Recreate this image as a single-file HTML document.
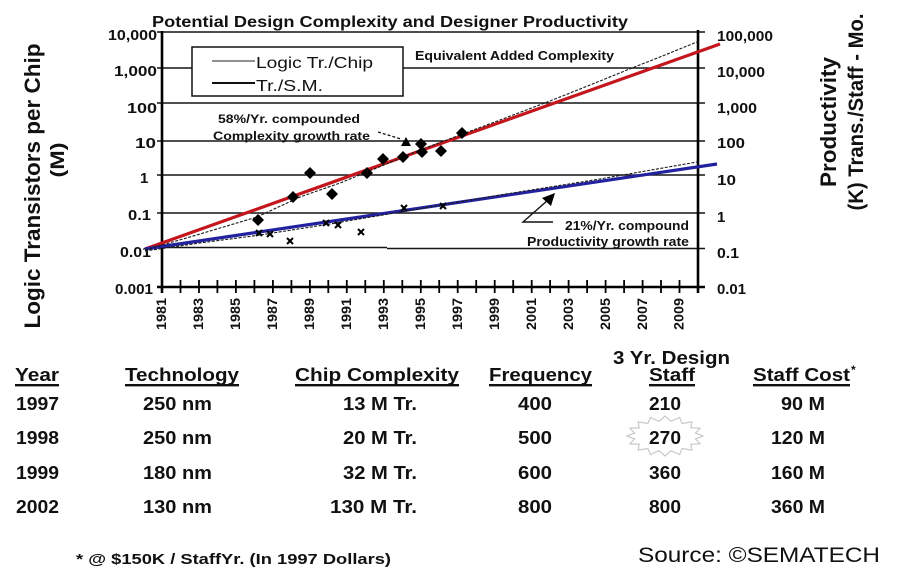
<!DOCTYPE html>
<html><head><meta charset="utf-8">
<style>
html,body{margin:0;padding:0;background:#fff;}
svg{display:block}
text{font-family:"Liberation Sans",Arial,sans-serif;fill:#111;}
.b{font-weight:bold;}
</style></head><body>
<svg width="900" height="578" viewBox="0 0 900 578" xmlns="http://www.w3.org/2000/svg">
<rect width="900" height="578" fill="#fff"/>

<!-- Title -->
<text class="b" x="152" y="27" font-size="16" textLength="476" lengthAdjust="spacingAndGlyphs">Potential Design Complexity and Designer Productivity</text>

<!-- Gridlines -->
<g stroke="#151515" stroke-width="1.6">
  <line x1="157" y1="32" x2="705" y2="32"/>
  <line x1="157" y1="68" x2="192" y2="68"/>
  <line x1="403" y1="68" x2="705" y2="68"/>
  <line x1="157" y1="103" x2="705" y2="103"/>
  <line x1="157" y1="141" x2="705" y2="141"/>
  <line x1="157" y1="175" x2="705" y2="175"/>
  <line x1="157" y1="213" x2="705" y2="213"/>
  <line x1="157" y1="247.5" x2="387" y2="247.5"/>
  <line x1="387" y1="248.5" x2="705" y2="248.5"/>
</g>

<!-- Axes -->
<g stroke="#000" stroke-width="2.6">
  <line x1="162" y1="31" x2="162" y2="293"/>
  <line x1="698" y1="30" x2="698" y2="293"/>
  <line x1="157" y1="287" x2="705" y2="287"/>
</g>

<!-- X ticks -->
<g stroke="#000" stroke-width="1.8">
  <line x1="180.5" y1="280" x2="180.5" y2="293"/>
  <line x1="199" y1="280" x2="199" y2="293"/>
  <line x1="217.4" y1="280" x2="217.4" y2="293"/>
  <line x1="235.9" y1="280" x2="235.9" y2="293"/>
  <line x1="254.4" y1="280" x2="254.4" y2="293"/>
  <line x1="272.9" y1="280" x2="272.9" y2="293"/>
  <line x1="291.4" y1="280" x2="291.4" y2="293"/>
  <line x1="309.9" y1="280" x2="309.9" y2="293"/>
  <line x1="328.3" y1="280" x2="328.3" y2="293"/>
  <line x1="346.8" y1="280" x2="346.8" y2="293"/>
  <line x1="365.3" y1="280" x2="365.3" y2="293"/>
  <line x1="383.8" y1="280" x2="383.8" y2="293"/>
  <line x1="402.3" y1="280" x2="402.3" y2="293"/>
  <line x1="420.8" y1="280" x2="420.8" y2="293"/>
  <line x1="439.2" y1="280" x2="439.2" y2="293"/>
  <line x1="457.7" y1="280" x2="457.7" y2="293"/>
  <line x1="476.2" y1="280" x2="476.2" y2="293"/>
  <line x1="494.7" y1="280" x2="494.7" y2="293"/>
  <line x1="513.2" y1="280" x2="513.2" y2="293"/>
  <line x1="531.7" y1="280" x2="531.7" y2="293"/>
  <line x1="550.1" y1="280" x2="550.1" y2="293"/>
  <line x1="568.6" y1="280" x2="568.6" y2="293"/>
  <line x1="587.1" y1="280" x2="587.1" y2="293"/>
  <line x1="605.6" y1="280" x2="605.6" y2="293"/>
  <line x1="624.1" y1="280" x2="624.1" y2="293"/>
  <line x1="642.6" y1="280" x2="642.6" y2="293"/>
  <line x1="661" y1="280" x2="661" y2="293"/>
  <line x1="679.5" y1="280" x2="679.5" y2="293"/>
</g>

<!-- X labels -->
<g class="b" font-size="14" font-weight="bold" text-anchor="end">
  <text transform="translate(166,298) rotate(-90)" textLength="32" lengthAdjust="spacingAndGlyphs">1981</text>
  <text transform="translate(203,298) rotate(-90)" textLength="32" lengthAdjust="spacingAndGlyphs">1983</text>
  <text transform="translate(240,298) rotate(-90)" textLength="32" lengthAdjust="spacingAndGlyphs">1985</text>
  <text transform="translate(277,298) rotate(-90)" textLength="32" lengthAdjust="spacingAndGlyphs">1987</text>
  <text transform="translate(314,298) rotate(-90)" textLength="32" lengthAdjust="spacingAndGlyphs">1989</text>
  <text transform="translate(351,298) rotate(-90)" textLength="32" lengthAdjust="spacingAndGlyphs">1991</text>
  <text transform="translate(388,298) rotate(-90)" textLength="32" lengthAdjust="spacingAndGlyphs">1993</text>
  <text transform="translate(425,298) rotate(-90)" textLength="32" lengthAdjust="spacingAndGlyphs">1995</text>
  <text transform="translate(462,298) rotate(-90)" textLength="32" lengthAdjust="spacingAndGlyphs">1997</text>
  <text transform="translate(499,298) rotate(-90)" textLength="32" lengthAdjust="spacingAndGlyphs">1999</text>
  <text transform="translate(536,298) rotate(-90)" textLength="32" lengthAdjust="spacingAndGlyphs">2001</text>
  <text transform="translate(573,298) rotate(-90)" textLength="32" lengthAdjust="spacingAndGlyphs">2003</text>
  <text transform="translate(610,298) rotate(-90)" textLength="32" lengthAdjust="spacingAndGlyphs">2005</text>
  <text transform="translate(647,298) rotate(-90)" textLength="32" lengthAdjust="spacingAndGlyphs">2007</text>
  <text transform="translate(683.5,298) rotate(-90)" textLength="32" lengthAdjust="spacingAndGlyphs">2009</text>
</g>

<!-- Left Y labels -->
<g font-size="15" font-weight="bold">
  <text x="108" y="40" textLength="49" lengthAdjust="spacingAndGlyphs">10,000</text>
  <text x="114" y="76" textLength="43" lengthAdjust="spacingAndGlyphs">1,000</text>
  <text x="127" y="113" textLength="30" lengthAdjust="spacingAndGlyphs">100</text>
  <text x="135" y="148" textLength="21" lengthAdjust="spacingAndGlyphs">10</text>
  <text x="140" y="183">1</text>
  <text x="128" y="220" textLength="23" lengthAdjust="spacingAndGlyphs">0.1</text>
  <text x="120" y="257" textLength="31" lengthAdjust="spacingAndGlyphs">0.01</text>
  <text x="115" y="294" textLength="38" lengthAdjust="spacingAndGlyphs">0.001</text>
</g>

<!-- Right Y labels -->
<g font-size="15" font-weight="bold">
  <text x="717" y="41" textLength="56" lengthAdjust="spacingAndGlyphs">100,000</text>
  <text x="717" y="77" textLength="48" lengthAdjust="spacingAndGlyphs">10,000</text>
  <text x="717" y="113" textLength="40" lengthAdjust="spacingAndGlyphs">1,000</text>
  <text x="717" y="148" textLength="28" lengthAdjust="spacingAndGlyphs">100</text>
  <text x="717" y="185" textLength="19" lengthAdjust="spacingAndGlyphs">10</text>
  <text x="717" y="222">1</text>
  <text x="717" y="258" textLength="22" lengthAdjust="spacingAndGlyphs">0.1</text>
  <text x="717" y="294" textLength="29" lengthAdjust="spacingAndGlyphs">0.01</text>
</g>

<!-- Axis titles -->
<text transform="translate(40,186) rotate(-90)" text-anchor="middle" font-size="22" font-weight="bold" textLength="285" lengthAdjust="spacingAndGlyphs">Logic Transistors per Chip</text>
<text transform="translate(64,160) rotate(-90)" text-anchor="middle" font-size="19" font-weight="bold" textLength="35" lengthAdjust="spacingAndGlyphs">(M)</text>
<text transform="translate(836,122) rotate(-90)" text-anchor="middle" font-size="22" font-weight="bold" textLength="130" lengthAdjust="spacingAndGlyphs">Productivity</text>
<text transform="translate(863,112) rotate(-90)" text-anchor="middle" font-size="21" font-weight="bold" textLength="197" lengthAdjust="spacingAndGlyphs">(K) Trans./Staff - Mo.</text>

<!-- Trend lines -->
<line x1="145" y1="249" x2="720" y2="44" stroke="#c4161c" stroke-width="3.2"/>
<line x1="145" y1="249" x2="717" y2="164" stroke="#22229e" stroke-width="3.2"/>

<!-- Data lines -->
<polyline fill="none" stroke="#1a1a1a" stroke-width="1.1" stroke-dasharray="3,1.5"
  points="145,250 200,234 257,217 300,197 340,183 367,172 420,150 460,135 500,120 550,101 600,81 632,68 660,57 697,42"/>
<polyline fill="none" stroke="#1a1a1a" stroke-width="1.1" stroke-dasharray="3,1.5"
  points="145,251 200,243 260,235 330,224 400,212 500,195 600,179 697,162"/>

<!-- Diamonds -->
<g fill="#000">
  <polygon points="258,214 264,220 258,226 252,220"/>
  <polygon points="293,191 299,197 293,203 287,197"/>
  <polygon points="310,167 316,173 310,179 304,173"/>
  <polygon points="332,188 338,194 332,200 326,194"/>
  <polygon points="367,167 373,173 367,179 361,173"/>
  <polygon points="383,153 389,159 383,165 377,159"/>
  <polygon points="403,151 409,157 403,163 397,157"/>
  <polygon points="421,138 427,144 421,150 415,144"/>
  <polygon points="422,146 428,152 422,158 416,152"/>
  <polygon points="441,145 447,151 441,157 435,151"/>
  <polygon points="462,127 468,133 462,139 456,133"/>
</g>

<!-- X markers -->
<g stroke="#000" stroke-width="2">
  <path d="M256,230 l6,6 M262,230 l-6,6"/>
  <path d="M267,231 l6,6 M273,231 l-6,6"/>
  <path d="M287,238 l6,6 M293,238 l-6,6"/>
  <path d="M323,220 l6,6 M329,220 l-6,6"/>
  <path d="M335,222 l6,6 M341,222 l-6,6"/>
  <path d="M358,229 l6,6 M364,229 l-6,6"/>
  <path d="M401,205 l6,6 M407,205 l-6,6"/>
  <path d="M440,203 l6,6 M446,203 l-6,6"/>
</g>

<!-- Legend -->
<rect x="192" y="47" width="211" height="49" fill="#fff" stroke="#111" stroke-width="1.5"/>
<line x1="212" y1="61" x2="255" y2="61" stroke="#222" stroke-width="1"/>
<line x1="212" y1="83" x2="255" y2="83" stroke="#111" stroke-width="2"/>
<text x="256" y="68" font-size="16" textLength="117" lengthAdjust="spacingAndGlyphs">Logic Tr./Chip</text>
<text x="256" y="91" font-size="16" textLength="67" lengthAdjust="spacingAndGlyphs">Tr./S.M.</text>

<!-- Annotations -->
<text x="415" y="60" font-size="13" font-weight="bold" textLength="199" lengthAdjust="spacingAndGlyphs">Equivalent Added Complexity</text>
<text x="218" y="123" font-size="12" font-weight="bold" textLength="142" lengthAdjust="spacingAndGlyphs">58%/Yr. compounded</text>
<text x="213" y="140" font-size="12" font-weight="bold" textLength="157" lengthAdjust="spacingAndGlyphs">Complexity growth rate</text>
<line x1="378" y1="132" x2="401" y2="139" stroke="#111" stroke-width="1.3" stroke-dasharray="3,2"/>
<polygon points="406,137 411,146 401,146" fill="#000"/>

<text x="565" y="230" font-size="12.5" font-weight="bold" textLength="124" lengthAdjust="spacingAndGlyphs">21%/Yr. compound</text>
<text x="527" y="246" font-size="12.5" font-weight="bold" textLength="162" lengthAdjust="spacingAndGlyphs">Productivity growth rate</text>
<path d="M553,222 L523,222 L548,200" fill="none" stroke="#111" stroke-width="1.4"/>
<polygon points="555,193 551,206 542,198" fill="#000"/>

<!-- Table headers -->
<g font-size="18" font-weight="bold">
  <text x="15" y="381" textLength="44" lengthAdjust="spacingAndGlyphs">Year</text>
  <text x="125" y="381" textLength="114" lengthAdjust="spacingAndGlyphs">Technology</text>
  <text x="295" y="381" textLength="164" lengthAdjust="spacingAndGlyphs">Chip Complexity</text>
  <text x="489" y="381" textLength="103" lengthAdjust="spacingAndGlyphs">Frequency</text>
  <text x="649" y="381" textLength="46" lengthAdjust="spacingAndGlyphs">Staff</text>
  <text x="613" y="364" textLength="117" lengthAdjust="spacingAndGlyphs">3 Yr. Design</text>
  <text x="753" y="381" textLength="97" lengthAdjust="spacingAndGlyphs">Staff Cost</text>
</g>
<text x="851" y="374" font-size="12" font-weight="bold">*</text>
<g fill="#111">
  <rect x="15" y="384" width="44" height="2.4"/>
  <rect x="125" y="384" width="114" height="2.4"/>
  <rect x="295" y="384" width="164" height="2.4"/>
  <rect x="489" y="384" width="103" height="2.4"/>
  <rect x="649" y="384" width="46" height="2.4"/>
  <rect x="753" y="384" width="97" height="2.4"/>
</g>

<!-- Starburst -->
<polygon fill="none" stroke="#c8c8c8" stroke-width="1.2" points="703,436 695.4,438.9 700.1,443.7 690.8,444.3 691.9,450.1 682.2,448.5 679.6,454.5 671,450.7 665,456 659,450.7 650.4,454.5 647.8,448.5 638.1,450.1 639.2,444.3 629.9,443.7 634.6,438.9 627,436 634.6,433.1 629.9,428.3 639.2,427.7 638.1,421.9 647.8,423.5 650.4,417.5 659,421.3 665,416 671,421.3 679.6,417.5 682.2,423.5 691.9,421.9 690.8,427.7 700.1,428.3 695.4,433.1"/>

<!-- Table rows -->
<g font-size="18" font-weight="bold">
  <text x="16" y="410" textLength="43" lengthAdjust="spacingAndGlyphs">1997</text>
  <text x="16" y="444" textLength="43" lengthAdjust="spacingAndGlyphs">1998</text>
  <text x="16" y="479" textLength="43" lengthAdjust="spacingAndGlyphs">1999</text>
  <text x="16" y="513" textLength="43" lengthAdjust="spacingAndGlyphs">2002</text>

  <text x="143" y="410" textLength="69" lengthAdjust="spacingAndGlyphs">250 nm</text>
  <text x="143" y="444" textLength="69" lengthAdjust="spacingAndGlyphs">250 nm</text>
  <text x="143" y="479" textLength="69" lengthAdjust="spacingAndGlyphs">180 nm</text>
  <text x="143" y="513" textLength="69" lengthAdjust="spacingAndGlyphs">130 nm</text>

  <text x="343" y="410" textLength="74" lengthAdjust="spacingAndGlyphs">13 M Tr.</text>
  <text x="343" y="444" textLength="74" lengthAdjust="spacingAndGlyphs">20 M Tr.</text>
  <text x="343" y="479" textLength="74" lengthAdjust="spacingAndGlyphs">32 M Tr.</text>
  <text x="330" y="513" textLength="87" lengthAdjust="spacingAndGlyphs">130 M Tr.</text>

  <text x="518" y="410" textLength="34" lengthAdjust="spacingAndGlyphs">400</text>
  <text x="518" y="444" textLength="34" lengthAdjust="spacingAndGlyphs">500</text>
  <text x="518" y="479" textLength="34" lengthAdjust="spacingAndGlyphs">600</text>
  <text x="518" y="513" textLength="34" lengthAdjust="spacingAndGlyphs">800</text>

  <text x="649" y="410" textLength="32" lengthAdjust="spacingAndGlyphs">210</text>
  <text x="649" y="444" textLength="32" lengthAdjust="spacingAndGlyphs">270</text>
  <text x="649" y="479" textLength="32" lengthAdjust="spacingAndGlyphs">360</text>
  <text x="649" y="513" textLength="32" lengthAdjust="spacingAndGlyphs">800</text>

  <text x="781" y="410" textLength="44" lengthAdjust="spacingAndGlyphs">90 M</text>
  <text x="771" y="444" textLength="54" lengthAdjust="spacingAndGlyphs">120 M</text>
  <text x="771" y="479" textLength="54" lengthAdjust="spacingAndGlyphs">160 M</text>
  <text x="771" y="513" textLength="54" lengthAdjust="spacingAndGlyphs">360 M</text>
</g>

<!-- Footer -->
<text x="76" y="564" font-size="15" font-weight="bold" textLength="315" lengthAdjust="spacingAndGlyphs">* @ $150K / StaffYr. (In 1997 Dollars)</text>
<text x="638" y="562" font-size="21" textLength="242" lengthAdjust="spacingAndGlyphs">Source: ©SEMATECH</text>
</svg>
</body></html>
